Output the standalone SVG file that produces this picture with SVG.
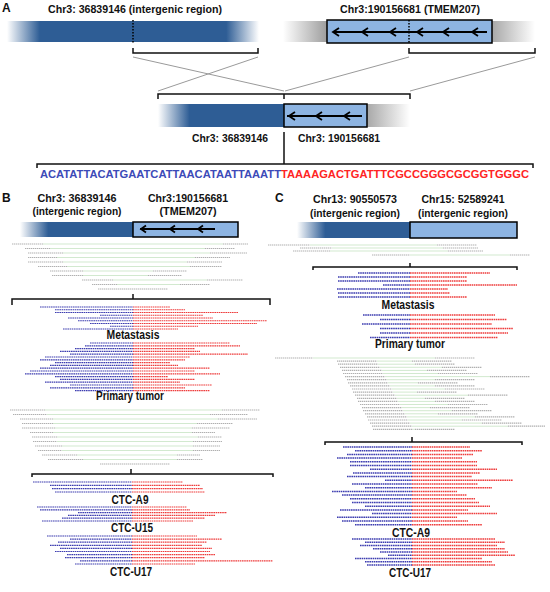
<svg xmlns="http://www.w3.org/2000/svg" width="550" height="592" viewBox="0 0 550 592">
<defs>
<style>
text{font-family:"Liberation Sans",Arial,sans-serif;font-weight:bold;fill:#111}
.pl{font-size:12px}
.hd{font-size:10.5px}
.hb{font-size:11px}
.lb{font-size:12.5px}
.seq{font-size:11.5px}
.box{fill:#8db4e2;stroke:#000;stroke-width:1.5}
.br{fill:none;stroke:#111;stroke-width:1.5}
.arr{fill:none;stroke:#000;stroke-width:1.8}
.dot{stroke:#000;stroke-width:1.5;stroke-dasharray:1.5 1.5}
.x{stroke:#9a9a9a;stroke-width:1;fill:none}
.b{fill:none;stroke:#3c3cb0;stroke-width:1.2;stroke-dasharray:1.6 0.6}
.r{fill:none;stroke:#ee3c3c;stroke-width:1.2;stroke-dasharray:1.6 0.6}
.c .b,.c .r{stroke-width:1.5}
.g{fill:none;stroke:#b0b0b0;stroke-width:1.2;stroke-dasharray:1.4 0.6}
.gr{fill:none;stroke:#bfe0ba;stroke-width:0.7}
</style>
<linearGradient id="gA1" x1="0" x2="1" y1="0" y2="0"><stop offset="0" stop-color="#fff"/><stop offset="0.13" stop-color="#2e5d95"/><stop offset="0.87" stop-color="#2e5d95"/><stop offset="1" stop-color="#fff"/></linearGradient>
<linearGradient id="gGr" x1="0" x2="1" y1="0" y2="0"><stop offset="0" stop-color="#fff"/><stop offset="0.17" stop-color="#a0a0a0"/><stop offset="0.83" stop-color="#a8a8a8"/><stop offset="1" stop-color="#fff"/></linearGradient>
<linearGradient id="gBl" x1="0" x2="1" y1="0" y2="0"><stop offset="0" stop-color="#fff"/><stop offset="0.25" stop-color="#2e5d95"/><stop offset="1" stop-color="#2e5d95"/></linearGradient>
<linearGradient id="gGf" x1="0" x2="1" y1="0" y2="0"><stop offset="0" stop-color="#a8a8a8"/><stop offset="1" stop-color="#fff"/></linearGradient>
</defs>
<rect width="550" height="592" fill="#fff"/>

<g id="panel-labels">
<text class="pl" x="2" y="12">A</text>
<text class="pl" x="2" y="202">B</text>
<text class="pl" x="275" y="202">C</text>
</g>

<g id="A-chr3-intergenic">
<text class="hd" x="48" y="13" textLength="174" lengthAdjust="spacingAndGlyphs">Chr3: 36839146  (intergenic region)</text>
<rect x="7" y="21" width="252" height="21" fill="url(#gA1)"/>
<line class="dot" x1="133" y1="20" x2="133" y2="43"/>
</g>

<g id="A-chr3-TMEM207">
<text class="hd" x="340" y="13" textLength="140" lengthAdjust="spacingAndGlyphs">Chr3:190156681  (TMEM207)</text>
<rect x="283" y="21" width="252" height="21" fill="url(#gGr)"/>
<rect class="box" x="327" y="20" width="165" height="23"/>
<path class="arr" d="M487 32H333M339 28L333 32L339 36M368 28L362 32L368 36M396 28L390 32L396 36M423 28L417 32L423 36M449 28L443 32L449 36M478 28L472 32L478 36"/>
<line class="dot" x1="409" y1="20" x2="409" y2="43"/>
</g>

<g id="A-fusion">
<rect x="158" y="104" width="126" height="23" fill="url(#gBl)"/>
<rect x="367" y="104" width="43" height="23" fill="url(#gGf)"/>
<rect class="box" x="284" y="104" width="83" height="23"/>
<path class="arr" d="M362 116H287M295 112L289 116L295 120M322 112L316 116L322 120M350 112L344 116L350 120"/>
<text class="hd" x="230" y="142" text-anchor="middle" textLength="76" lengthAdjust="spacingAndGlyphs">Chr3: 36839146</text>
<text class="hd" x="339" y="142" text-anchor="middle" textLength="82" lengthAdjust="spacingAndGlyphs">Chr3: 190156681</text>
</g>

<g id="A-sequence">
<text class="seq" x="40" y="178" style="fill:#3c4ab8" textLength="241" lengthAdjust="spacingAndGlyphs">ACATATTACATGAATCATTAACATAATTAAATT</text>
<text class="seq" x="281" y="178" style="fill:#ff2424" textLength="248" lengthAdjust="spacingAndGlyphs">TAAAAGACTGATTTCGCCGGGCGCGGTGGGC</text>
</g>

<g id="connectors">
<path class="br" d="M133 48V53H258V48M409 48V53H535V48"/>
<path class="x" d="M133 57L284 91M258 57L158 91M409 57L285 91M535 57L410 91"/>
<path class="br" d="M158 99V94H410V99M284 94V99"/>
<path class="br" d="M37 168V164H533V168M284 132V164"/>
<path class="br" d="M12 305V299H270V305M133 294V299"/>
<path class="br" d="M32 477V474H273V477M131 469V474"/>
<path class="br" d="M313 270V267H517V270M410 263V267"/>
<path class="br" d="M325 445V442H522V445M412 437V442"/>
</g>

<g id="B-header">
<text class="hb" x="77" y="202" text-anchor="middle" textLength="79" lengthAdjust="spacingAndGlyphs">Chr3: 36839146</text>
<text class="hb" x="77" y="215" text-anchor="middle" textLength="89" lengthAdjust="spacingAndGlyphs">(intergenic region)</text>
<text class="hb" x="188" y="202" text-anchor="middle" textLength="80" lengthAdjust="spacingAndGlyphs">Chr3:190156681</text>
<text class="hb" x="188" y="215" text-anchor="middle" textLength="57" lengthAdjust="spacingAndGlyphs">(TMEM207)</text>
<rect x="20" y="222" width="113" height="15" fill="url(#gBl)"/>
<rect class="box" x="133" y="222" width="105" height="15"/>
<path class="arr" d="M215 229H140M146 225.5L141 229L146 232.5M175 225.5L170 229L175 232.5M203 225.5L198 229L203 232.5"/>
</g>

<g id="B-spanning-reads-1">
<path class="gr" d="M43 244H223M50 248.5H205M63 253H210M57 257.5H195M63 262H187M67 266.5H190M83 271H153M83 275.5H148M113 280H207M117 284.5H180"/>
<path class="g" d="M12 244H43M223 244H248M25 248.5H50M205 248.5H235M28 253H63M210 253H247M28 257.5H57M195 257.5H230M28 262H63M187 262H222M38 266.5H67M190 266.5H222M50 271H83M153 271H187M52 275.5H83M148 275.5H182M82 280H113M207 280H243M92 284.5H117M180 284.5H210M98 289H168"/>
</g>

<g id="B-metastasis">
<path class="b" d="M40 307H133M55 309.75H133M55 312.5H133M100 315.25H133M68 318H133M78 320.75H133M90 323.5H133M110 326.25H133M63 329H133"/>
<path class="r" d="M133 307H170M133 309.75H185M133 312.5H238M133 315.25H203M133 318H213M133 320.75H267M133 323.5H257M133 326.25H198M133 329H178"/>
<text class="lb" x="133" y="339" text-anchor="middle" textLength="53" lengthAdjust="spacingAndGlyphs">Metastasis</text>
</g>

<g id="B-primary">
<path class="b" d="M90 343H133M85 345.8H133M75 348.6H133M60 351.4H133M70 354.2H133M45 357H133M40 359.8H133M55 362.6H133M50 365.4H133M40 368.2H133M30 371H133M25 373.8H133M55 376.6H133M60 379.4H133M45 382.2H133M70 385H133M50 387.8H133M75 390.6H133"/>
<path class="r" d="M133 343H230M133 345.8H240M133 348.6H195M133 351.4H200M133 354.2H248M133 357H190M133 359.8H185M133 362.6H170M133 365.4H178M133 368.2H210M133 371H195M133 373.8H220M133 376.6H168M133 379.4H195M133 382.2H180M133 385H212M133 387.8H185M133 390.6H210"/>
<text class="lb" x="130" y="400" text-anchor="middle" textLength="68" lengthAdjust="spacingAndGlyphs">Primary tumor</text>
</g>

<g id="B-spanning-reads-2">
<path class="gr" d="M45 410H222M47 414.5H210M53 419H218M53 423.5H197M55 428H192M53 432.5H192M57 437H198M57 441.5H193M62 446H193M62 450.5H193M77 455H177M83 459.5H177"/>
<path class="g" d="M10 410H45M222 410H260M13 414.5H47M210 414.5H248M20 419H53M218 419H257M22 423.5H53M197 423.5H233M22 428H55M192 428H230M30 432.5H53M192 432.5H215M32 437H57M198 437H222M33 441.5H57M193 441.5H222M35 446H62M193 446H220M38 450.5H62M193 450.5H220M42 455H77M177 455H200M48 459.5H83M177 459.5H203M100 464H170"/>
</g>

<g id="B-CTC-A9">
<path class="b" d="M33 482H132M50 485.3H132M52 488.6H132M55 492H132"/>
<path class="r" d="M132 482H183M132 485.3H200M132 488.6H203M132 492H205"/>
<text class="lb" x="130" y="504" text-anchor="middle" textLength="37" lengthAdjust="spacingAndGlyphs">CTC-A9</text>
</g>

<g id="B-CTC-U15">
<path class="b" d="M37 507H132M40 509.8H132M78 512.6H132M68 515.4H132M62 518.2H132M42 521H132"/>
<path class="r" d="M132 507H187M132 509.8H190M132 512.6H227M132 515.4H215M132 518.2H205M132 521H193"/>
<text class="lb" x="132" y="532" text-anchor="middle" textLength="42" lengthAdjust="spacingAndGlyphs">CTC-U15</text>
</g>

<g id="B-CTC-U17">
<path class="b" d="M47 536H132M70 539.1H132M58 542.2H132M50 545.3H132M60 548.4H132M55 551.5H132M67 554.6H132M65 557.7H132M80 560.8H132M75 564H132"/>
<path class="r" d="M132 536H197M132 539.1H222M132 542.2H207M132 545.3H202M132 548.4H212M132 551.5H210M132 554.6H215M132 557.7H205M132 560.8H273M132 564H195"/>
<text class="lb" x="131" y="576" text-anchor="middle" textLength="42" lengthAdjust="spacingAndGlyphs">CTC-U17</text>
</g>

<g id="C-header">
<text class="hb" x="355" y="203" text-anchor="middle" textLength="84" lengthAdjust="spacingAndGlyphs">Chr13: 90550573</text>
<text class="hb" x="355" y="217" text-anchor="middle" textLength="90" lengthAdjust="spacingAndGlyphs">(intergenic region)</text>
<text class="hb" x="463" y="203" text-anchor="middle" textLength="83" lengthAdjust="spacingAndGlyphs">Chr15: 52589241</text>
<text class="hb" x="463" y="217" text-anchor="middle" textLength="90" lengthAdjust="spacingAndGlyphs">(intergenic region)</text>
<rect x="297" y="222" width="113" height="16" fill="url(#gBl)"/>
<rect class="box" x="410" y="222" width="107" height="16"/>
</g>

<g id="C-spanning-reads-1">
<path class="gr" d="M310 245H437M332 248H443M330 251H448M410 255H510"/>
<path class="g" d="M268 245H310M437 245H477M300 248H332M443 248H478M293 251H330M448 251H483M372 255H410M510 255H530"/>
</g>

<g id="C-metastasis" class="c">
<path class="b" d="M358 273H410M338 277H410M338 281H410M383 285H410M337 289H410M338 293H410M338 297H410"/>
<path class="r" d="M410 273H490M410 277H467M410 281H467M410 285H517M410 289H448M410 293H450M410 297H467"/>
<text class="lb" x="408" y="309" text-anchor="middle" textLength="53" lengthAdjust="spacingAndGlyphs">Metastasis</text>
</g>

<g id="C-primary" class="c">
<path class="b" d="M363 315H410M380 319.5H410M362 324H410M380 328.5H410M380 333H410M370 337.5H410"/>
<path class="r" d="M410 315H495M410 319.5H507M410 324H492M410 328.5H513M410 333H508M410 337.5H498"/>
<text class="lb" x="410" y="348" text-anchor="middle" textLength="70" lengthAdjust="spacingAndGlyphs">Primary tumor</text>
</g>

<g id="C-spanning-reads-2">
<path class="gr" d="M313 358H435M377 361.1H412M378 364.2H415M380 367.3H442M382 370.4H427M383 373.5H438M385 376.6H490M387 379.7H435M388 382.8H418M390 385.9H435M392 389H445M393 392.1H417M395 395.2H468M397 398.3H425M398 401.4H435M400 404.5H448M402 407.6H430M403 410.7H452M405 413.8H438M407 416.9H475M408 420H462M410 423.1H482M412 426.2H508M413 429.3H415"/>
<path class="g" d="M275 358H313M435 358H475M337 361.1H377M412 361.1H452M338 364.2H378M415 364.2H455M340 367.3H380M442 367.3H482M342 370.4H382M427 370.4H467M343 373.5H383M438 373.5H478M345 376.6H385M490 376.6H530M347 379.7H387M435 379.7H475M348 382.8H388M418 382.8H458M350 385.9H390M435 385.9H475M352 389H392M445 389H485M353 392.1H393M417 392.1H457M355 395.2H395M468 395.2H508M357 398.3H397M425 398.3H465M358 401.4H398M435 401.4H475M360 404.5H400M448 404.5H488M362 407.6H402M430 407.6H470M363 410.7H403M452 410.7H492M365 413.8H405M438 413.8H478M367 416.9H407M475 416.9H515M368 420H408M462 420H502M370 423.1H410M482 423.1H522M372 426.2H412M508 426.2H545M373 429.3H413M415 429.3H455"/>
</g>

<g id="C-CTC-A9" class="c">
<path class="b" d="M343 447H412M355 450.7H412M347 454.4H412M337 458.1H412M350 461.8H412M350 465.5H412M370 469.2H412M353 472.9H412M347 476.6H412M385 480.3H412M352 484H412M365 487.7H412M332 491.4H412M342 495.1H412M350 498.8H412M352 502.5H412M365 506.2H412M340 509.9H412M372 513.6H412M337 517.3H412M342 521H412M355 524.7H412"/>
<path class="r" d="M412 447H470M412 450.7H482M412 454.4H473M412 458.1H462M412 461.8H477M412 465.5H477M412 469.2H497M412 472.9H480M412 476.6H472M412 480.3H513M412 484H478M412 487.7H492M412 491.4H457M412 495.1H467M412 498.8H475M412 502.5H479M412 506.2H490M412 509.9H468M412 513.6H497M412 517.3H457M412 521H468M412 524.7H482"/>
<text class="lb" x="411" y="537" text-anchor="middle" textLength="38" lengthAdjust="spacingAndGlyphs">CTC-A9</text>
</g>

<g id="C-CTC-U17" class="c">
<path class="b" d="M352 539H412M365 542.25H412M360 545.5H412M373 548.75H412M380 552H412M388 555.25H412M355 558.5H412M365 561.75H412M367 565H412"/>
<path class="r" d="M412 539H495M412 542.25H505M412 545.5H497M412 548.75H505M412 552H508M412 555.25H515M412 558.5H482M412 561.75H492M412 565H495"/>
<text class="lb" x="410" y="577" text-anchor="middle" textLength="42" lengthAdjust="spacingAndGlyphs">CTC-U17</text>
</g>
</svg>
